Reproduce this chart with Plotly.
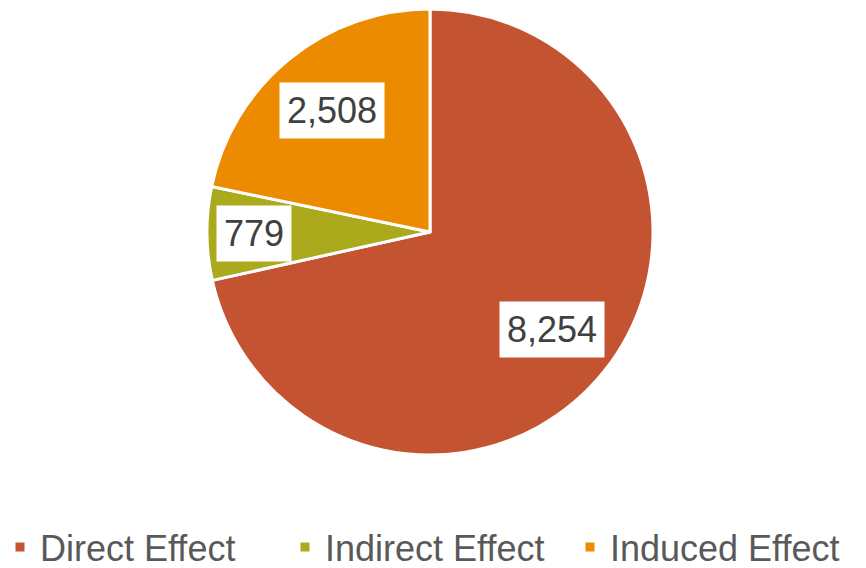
import math
import plotly.graph_objects as go

categories = ["Direct Effect", "Indirect Effect", "Induced Effect"]
values = [8254, 779, 2508]
colors = ["#C45332", "#AAAA1C", "#EC8B00"]
label_radius = [0.70, 0.79, 0.70]

W, H = 866, 568
cx, cy, r = 430, 232, 223  # pixels, pie center and radius

fig = go.Figure(go.Pie(
    labels=categories, values=values, sort=False, direction="clockwise", rotation=0,
    marker=dict(colors=colors, line=dict(color="white", width=3)),
    textinfo="none",
    domain=dict(x=[(cx - r) / W, (cx + r) / W], y=[1 - (cy + r) / H, 1 - (cy - r) / H]),
))

total = sum(values)
cum = 0
for v, f in zip(values, label_radius):
    mid = (cum + v / 2) / total * 2 * math.pi
    cum += v
    px = cx + f * r * math.sin(mid)
    py = cy - f * r * math.cos(mid)
    fig.add_annotation(
        x=px / W, y=1 - py / H, xref="paper", yref="paper",
        xanchor="center", yanchor="middle",
        text=f"{v:,}", showarrow=False, bgcolor="white", borderpad=7,
        font=dict(family="Liberation Sans, Arial", size=36, color="#404040"),
    )

fig.update_layout(
    width=W, height=H, margin=dict(l=0, r=0, t=0, b=0, autoexpand=False),
    paper_bgcolor="white", plot_bgcolor="white",
    showlegend=True,
    legend=dict(orientation="h", x=0, xanchor="left", y=1 - 547 / H, yanchor="middle",
                font=dict(family="Liberation Sans, Arial", size=36, color="#595959"),
                itemwidth=30, traceorder="normal", entrywidth=240, entrywidthmode="pixels"),
)

fig.write_html("out.html", post_script="document.body.style.margin='0';",
               config={"displayModeBar": False})
